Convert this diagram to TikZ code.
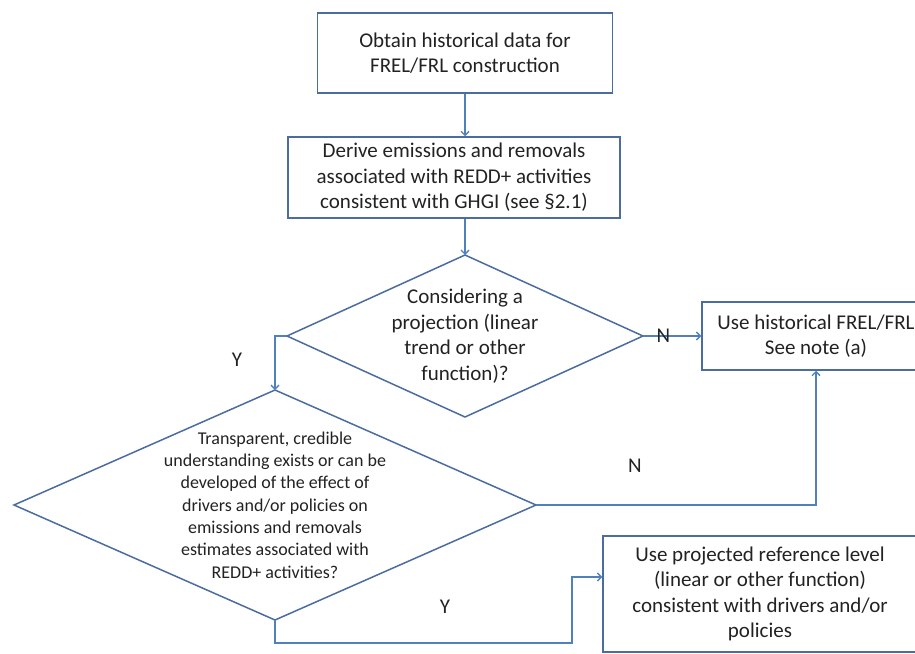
\documentclass[tikz,border=0pt]{standalone}
\usepackage{fontspec}
\setmainfont{Carlito}
\usepackage{xcolor}
\usepackage{tikz}
\usetikzlibrary{arrows.meta,shapes.geometric}
\definecolor{boxblue}{HTML}{4A6C9E}
\definecolor{flowblue}{HTML}{4F81BD}
\definecolor{textgray}{HTML}{222222}

\begin{document}
\begin{tikzpicture}[x=1pt,y=-1pt,
  box/.style={draw=boxblue,line width=1.5pt,inner sep=0pt,align=center,text=textgray,font=\fontsize{21}{25.5}\selectfont},
  decision/.style={diamond,draw=boxblue,line width=1.5pt,inner sep=0pt,outer sep=0pt},
  flow/.style={draw=flowblue,line width=1.3pt,-{Straight Barb[length=4pt,width=8pt]}},
  lbl/.style={text=textgray,font=\fontsize{21}{25.5}\selectfont}]
  \useasboundingbox (0,0) rectangle (915,653);
  \clip (0,0) rectangle (915,653);
  \node[box,minimum width=295pt,minimum height=80pt] (obtain) at (465,53) {Obtain historical data for\\FREL/FRL construction};
  \node[box,minimum width=332pt,minimum height=81pt] (derive) at (454,177.5) {Derive emissions and removals\\associated with REDD+ activities\\consistent with GHGI (see §2.1)};
  \node[decision,minimum width=356pt,minimum height=162pt] (proj) at (465,336) {};
  \node[lbl,align=center] (projtext) at (proj.center) {Considering a\\projection (linear\\trend or other\\function)?};
  \node[box,minimum width=228pt,minimum height=68pt] (hist) at (816,336) {Use historical FREL/FRL\\See note (a)};
  \node[decision,minimum width=522pt,minimum height=230pt] (drivers) at (275,505) {};
  \node[lbl,align=center,font=\fontsize{18}{22.3}\selectfont] (driverstext) at (drivers.center) {Transparent,  credible\\understanding exists or can be\\developed  of the effect of\\drivers and/or policies on\\emissions and removals\\estimates  associated with\\REDD+ activities?};
  \node[box,minimum width=314pt,minimum height=116pt] (projref) at (760,594) {Use projected reference level\\(linear or other function)\\consistent with drivers and/or\\policies};
  \draw[flow] (obtain.south) -- (obtain.south |- derive.north);
  \draw[flow] (proj.north |- derive.south) -- (proj.north);
  \draw[flow] (proj.east) -- node[lbl,pos=0.35] (nlabel1) {N} (hist.west);
  \draw[flow] (proj.west) -| (drivers.north);
  \node[lbl] (ylabel1) at (237,360) {Y};
  \draw[flow] (drivers.east) -| (hist.south);
  \node[lbl] (nlabel2) at (635,466) {N};
  \coordinate (ybend) at (572,643);
  \draw[flow] (drivers.south) |- (ybend) |- ([yshift=17pt]projref.west);
  \node[lbl] (ylabel2) at (445,607) {Y};
\end{tikzpicture}
\end{document}
